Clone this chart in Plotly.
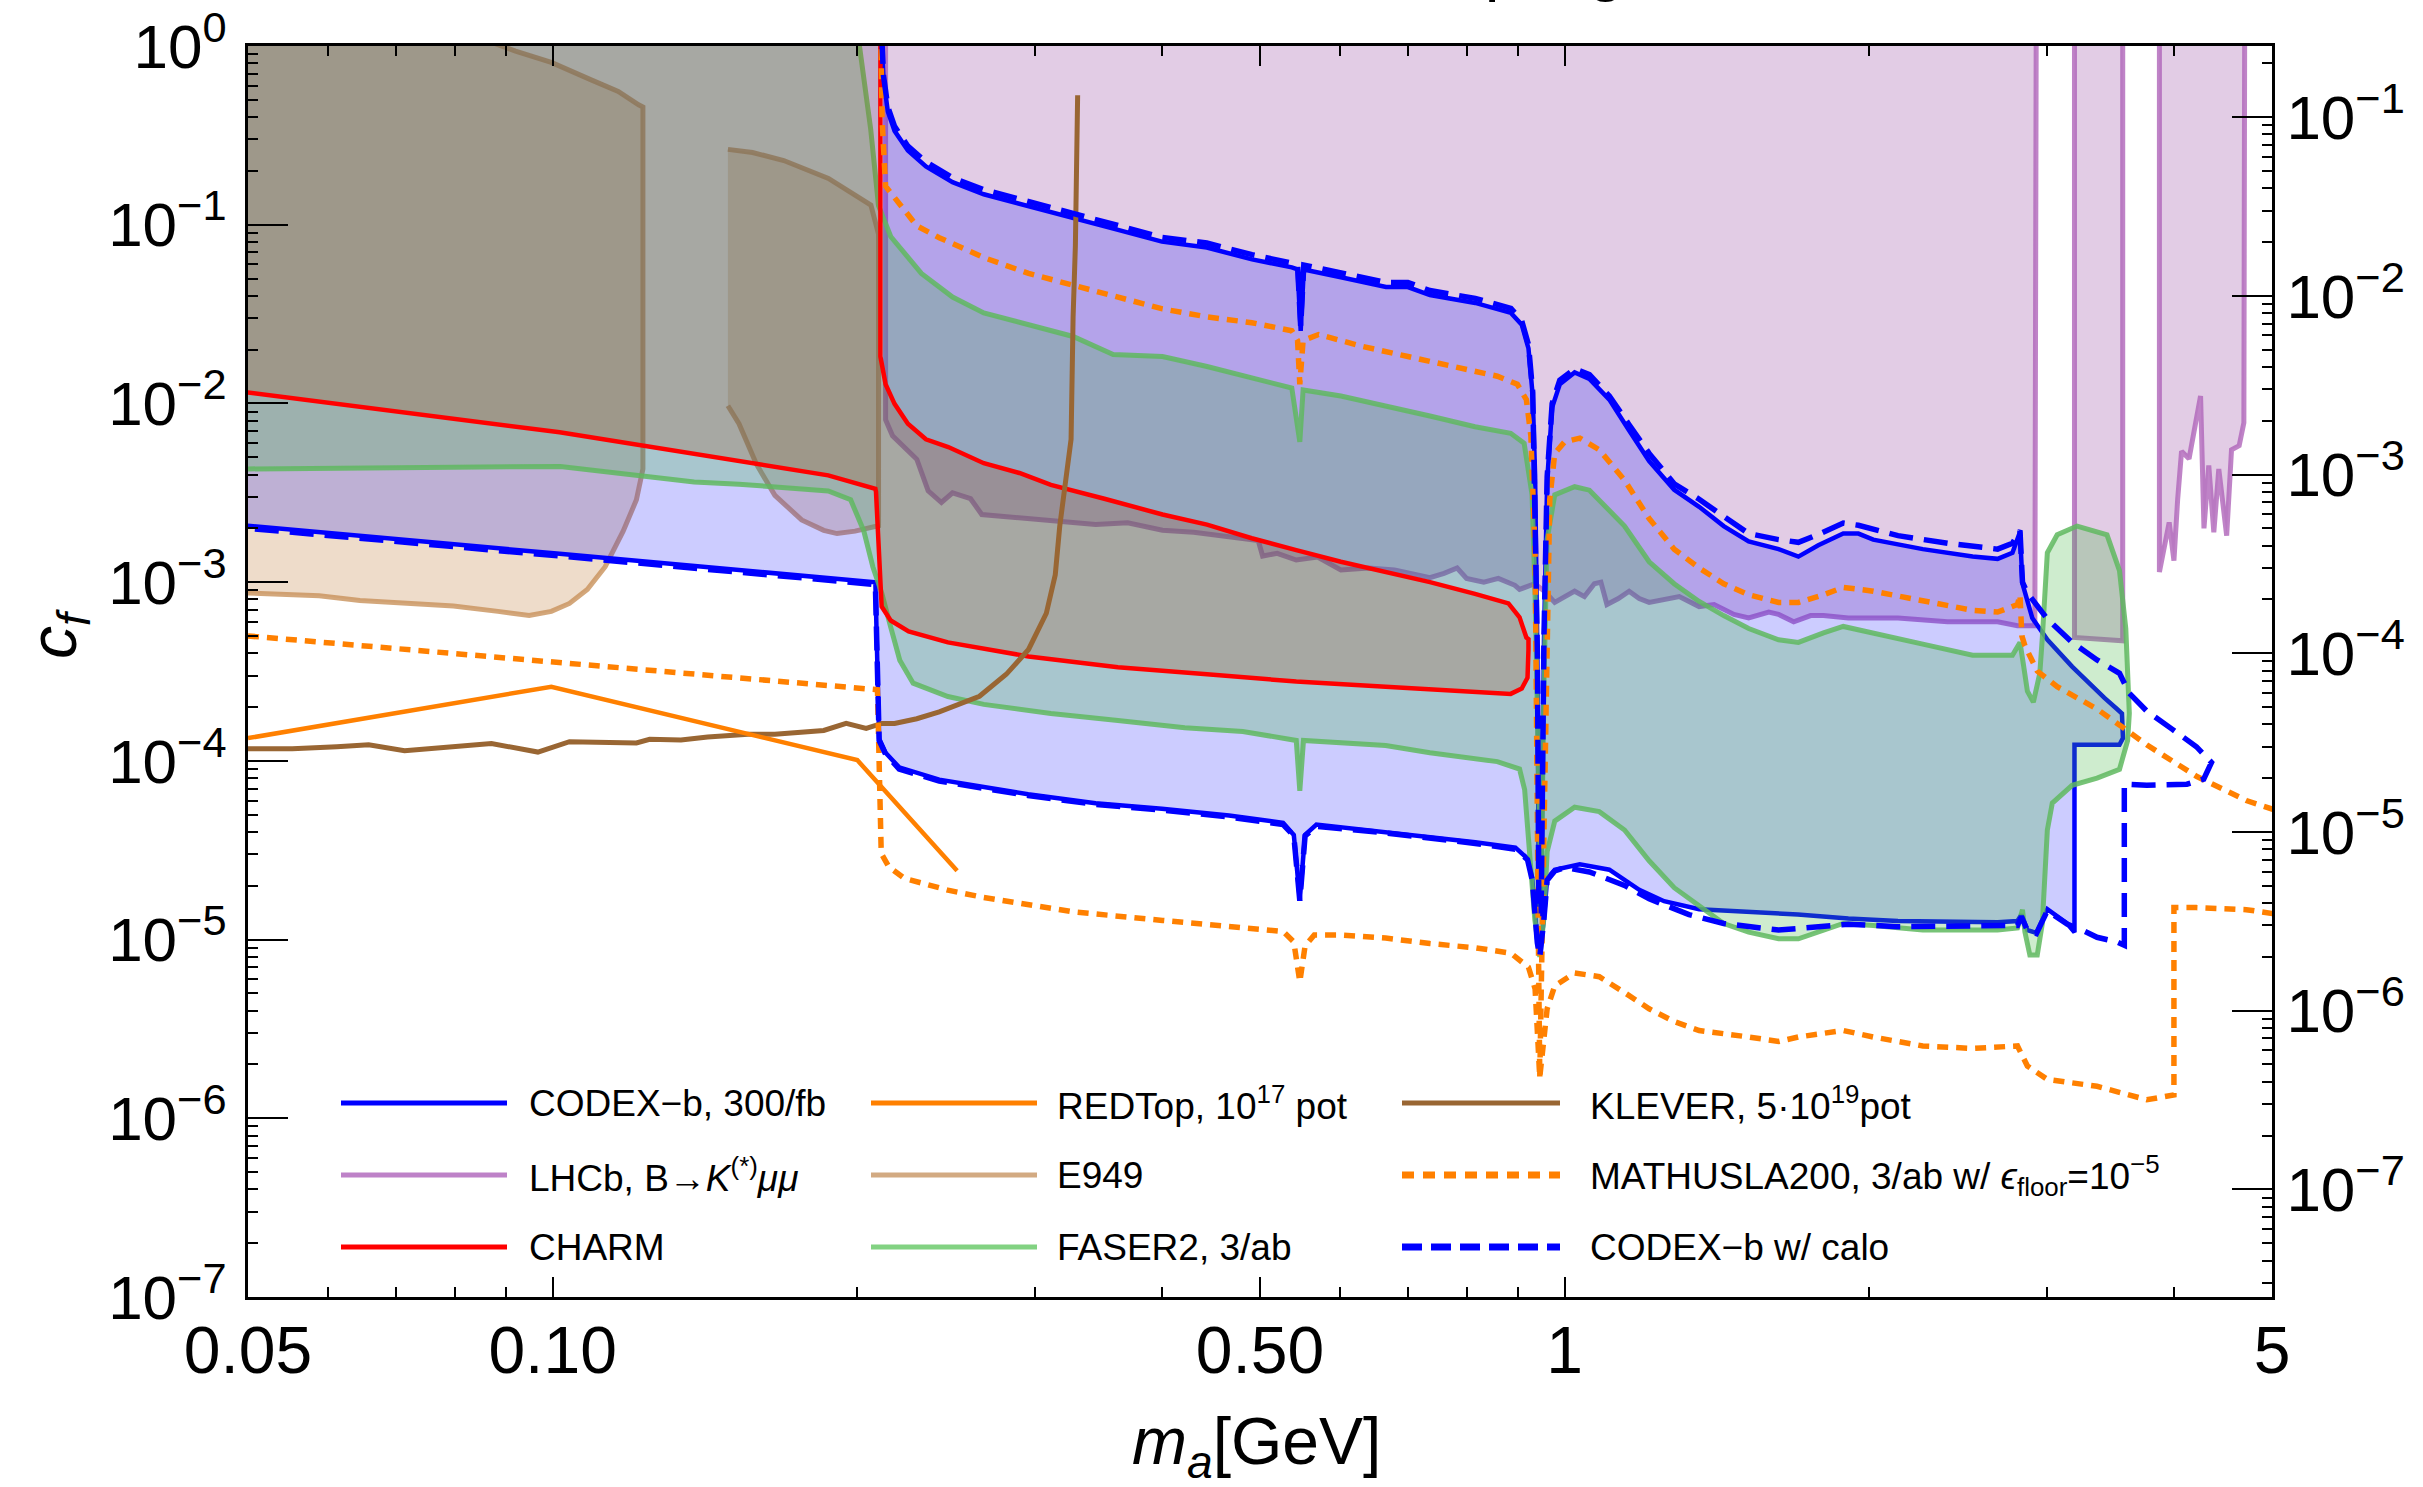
import math
import plotly.graph_objects as go

FONT = "Liberation Sans, Arial, Helvetica, sans-serif"

# ------------------------------------------------------------------ data
# all points are (m_a [GeV], c_f)

# CODEX-b, 300/fb (solid, filled region)
codex_lower = [(0.05, 2.07e-3), (0.1016, 1.44e-3), (0.2084, 9.97e-4), (0.2102, 1.33e-4), (0.2133, 1.11e-4),
               (0.220, 9.2e-5), (0.241, 7.85e-5), (0.295, 6.5e-5), (0.344, 5.8e-5), (0.400, 5.4e-5),
               (0.466, 4.95e-5), (0.527, 4.5e-5), (0.540, 3.85e-5), (0.5474, 1.68e-5), (0.554, 3.85e-5),
               (0.5685, 4.4e-5), (0.666, 4.0e-5), (0.816, 3.5e-5), (0.894, 3.27e-5), (0.919, 2.84e-5),
               (0.929, 2.19e-5), (0.9397, 9.8e-6), (0.945, 8.2e-6), (0.9537, 1.3e-5), (0.961, 2.19e-5),
               (0.9777, 2.46e-5), (1.035, 2.64e-5), (1.107, 2.46e-5), (1.185, 1.9e-5), (1.254, 1.64e-5),
               (1.358, 1.48e-5), (1.52, 1.43e-5), (1.70, 1.38e-5), (1.907, 1.31e-5), (2.135, 1.27e-5),
               (2.678, 1.25e-5), (2.802, 1.27e-5), (2.827, 1.38e-5), (2.866, 1.13e-5), (2.925, 1.09e-5),
               (2.999, 1.48e-5), (3.137, 1.23e-5), (3.19, 1.1e-5)]
codex_right = [(3.19, 1.23e-4), (3.534, 1.23e-4), (3.562, 1.34e-4), (3.554, 1.84e-4)]
codex_upper = [(0.2105, 2.0), (0.2123, 0.649), (0.2144, 0.43), (0.2177, 0.335), (0.2244, 0.26), (0.2338, 0.212),
               (0.2484, 0.173), (0.2667, 0.148), (0.2953, 0.127), (0.3268, 0.109), (0.362, 0.0936),
               (0.400, 0.0804), (0.443, 0.0745), (0.491, 0.064), (0.5375, 0.0577), (0.5446, 0.0562),
               (0.5485, 0.0255), (0.5524, 0.0562), (0.601, 0.0508), (0.666, 0.0448), (0.700, 0.0448),
               (0.736, 0.0404), (0.816, 0.0365), (0.885, 0.0321), (0.907, 0.0276), (0.921, 0.0203),
               (0.930, 0.011), (0.935, 3.97e-3), (0.940, 3.7e-4), (0.943, 1.5e-5), (0.948, 1.5e-5),
               (0.954, 4.7e-4), (0.961, 3.7e-3), (0.972, 9.5e-3), (0.989, 1.28e-2), (1.023, 1.49e-2),
               (1.058, 1.37e-2), (1.107, 1.05e-2), (1.158, 7.06e-3), (1.212, 4.76e-3), (1.283, 3.29e-3),
               (1.358, 2.64e-3), (1.436, 2.06e-3), (1.52, 1.69e-3), (1.627, 1.53e-3), (1.702, 1.39e-3),
               (1.781, 1.61e-3), (1.885, 1.87e-3), (1.951, 1.87e-3), (2.018, 1.73e-3), (2.259, 1.53e-3),
               (2.53, 1.39e-3), (2.678, 1.35e-3), (2.77, 1.46e-3), (2.818, 1.91e-3), (2.834, 9.8e-4),
               (2.898, 6.3e-4), (3.0, 4.76e-4), (3.173, 3.37e-4), (3.415, 2.25e-4), (3.514, 1.95e-4)]

# CODEX-b w/ calo (dashed contour)
calo_lower = [(0.05, 2.0e-3), (0.1016, 1.4e-3), (0.2084, 9.7e-4), (0.2102, 1.3e-4), (0.2133, 1.09e-4),
              (0.220, 9.0e-5), (0.241, 7.7e-5), (0.295, 6.4e-5), (0.344, 5.7e-5), (0.400, 5.3e-5),
              (0.466, 4.85e-5), (0.527, 4.4e-5), (0.540, 3.8e-5), (0.5474, 1.65e-5), (0.554, 3.8e-5),
              (0.5685, 4.3e-5), (0.666, 3.95e-5), (0.816, 3.45e-5), (0.894, 3.2e-5), (0.919, 2.8e-5),
              (0.929, 2.15e-5), (0.9397, 9.6e-6), (0.945, 8.0e-6), (0.9537, 1.28e-5), (0.961, 2.15e-5),
              (0.9777, 2.42e-5), (1.0, 2.53e-5), (1.058, 2.39e-5), (1.146, 2.01e-5), (1.212, 1.69e-5),
              (1.327, 1.38e-5), (1.436, 1.23e-5), (1.627, 1.13e-5), (1.907, 1.22e-5), (2.135, 1.18e-5),
              (2.802, 1.2e-5), (2.827, 1.35e-5), (2.866, 1.12e-5), (2.925, 1.08e-5), (2.999, 1.45e-5),
              (3.137, 1.22e-5), (3.245, 1.13e-5), (3.358, 1.03e-5), (3.514, 9.7e-6), (3.573, 9.3e-6)]
calo_right = [(3.573, 7.4e-5), (3.76, 7.3e-5), (4.12, 7.4e-5), (4.28, 7.9e-5), (4.357, 9.8e-5)]
calo_upper = [(0.2105, 2.0), (0.2123, 0.68), (0.2144, 0.455), (0.2177, 0.355), (0.2244, 0.275), (0.2338, 0.225),
              (0.2484, 0.183), (0.2667, 0.157), (0.2953, 0.135), (0.3268, 0.116), (0.362, 0.099),
              (0.400, 0.085), (0.443, 0.079), (0.491, 0.068), (0.5375, 0.061), (0.5446, 0.0595),
              (0.5485, 0.027), (0.5524, 0.0595), (0.601, 0.054), (0.666, 0.0475), (0.700, 0.0475),
              (0.736, 0.0428), (0.816, 0.0387), (0.885, 0.034), (0.907, 0.029), (0.921, 0.0213),
              (0.930, 0.0115), (0.935, 4.1e-3), (0.940, 3.8e-4), (0.943, 1.4e-5), (0.948, 1.4e-5),
              (0.954, 4.9e-4), (0.961, 3.9e-3), (0.972, 1.0e-2), (0.989, 1.35e-2), (1.023, 1.56e-2),
              (1.058, 1.45e-2), (1.107, 1.1e-2), (1.158, 7.6e-3), (1.212, 5.25e-3), (1.283, 3.55e-3),
              (1.358, 2.91e-3), (1.436, 2.33e-3), (1.52, 1.87e-3), (1.627, 1.73e-3), (1.702, 1.67e-3),
              (1.781, 1.85e-3), (1.885, 2.14e-3), (1.951, 2.08e-3), (2.135, 1.82e-3), (2.39, 1.65e-3),
              (2.678, 1.53e-3), (2.77, 1.65e-3), (2.818, 1.95e-3), (2.834, 1.0e-3), (2.866, 8.7e-4),
              (3.0, 6.2e-4), (3.173, 4.6e-4), (3.358, 3.67e-4), (3.534, 3.09e-4), (3.614, 2.39e-4),
              (3.76, 1.9e-4), (3.98, 1.51e-4), (4.21, 1.2e-4)]

# LHCb, B -> K(*) mu mu (excluded above the boundary, three pieces)
lhcb_main = [(0.2133, 3.0), (0.2133, 8.1e-3), (0.2167, 6.6e-3), (0.2222, 5.7e-3), (0.229, 4.87e-3),
             (0.235, 3.24e-3), (0.2422, 2.79e-3), (0.2484, 3.16e-3), (0.2588, 2.93e-3), (0.2655, 2.39e-3),
             (0.2953, 2.27e-3), (0.32, 2.2e-3), (0.344, 2.1e-3), (0.37, 2.15e-3), (0.4005, 1.95e-3),
             (0.43, 1.9e-3), (0.4663, 1.8e-3), (0.498, 1.71e-3), (0.503, 1.4e-3), (0.52, 1.45e-3),
             (0.543, 1.33e-3), (0.57, 1.38e-3), (0.601, 1.17e-3), (0.64, 1.2e-3), (0.679, 1.17e-3),
             (0.736, 1.06e-3), (0.76, 1.12e-3), (0.783, 1.2e-3), (0.80, 1.05e-3), (0.832, 1.0e-3),
             (0.86, 1.05e-3), (0.893, 9.6e-4), (0.9025, 9.1e-4), (0.934, 9.8e-4), (0.955, 8.9e-4),
             (0.9777, 7.7e-4), (1.023, 8.9e-4), (1.046, 8.3e-4), (1.070, 9.8e-4), (1.086, 1.0e-3),
             (1.101, 7.5e-4), (1.13, 8.1e-4), (1.158, 8.9e-4), (1.185, 8.1e-4), (1.212, 7.7e-4),
             (1.25, 8.0e-4), (1.298, 8.3e-4), (1.358, 7.3e-4), (1.405, 7.5e-4), (1.47, 6.6e-4),
             (1.52, 6.3e-4), (1.591, 6.8e-4), (1.627, 6.6e-4), (1.684, 6.0e-4), (1.75, 6.5e-4),
             (1.802, 6.5e-4), (1.907, 6.3e-4), (2.135, 6.3e-4), (2.39, 6.0e-4), (2.678, 6.0e-4),
             (2.802, 5.7e-4), (2.915, 5.7e-4), (2.915, 6.7e-3), (2.925, 3.0)]
lhcb_mid = [(3.19, 3.0), (3.19, 4.9e-4), (3.56, 4.7e-4), (3.56, 3.0)]
lhcb_high = [(3.87, 3.0), (3.87, 1.14e-3), (3.957, 2.16e-3), (4.0, 1.32e-3), (4.034, 2.9e-3), (4.07, 5.4e-3),
             (4.14, 4.9e-3), (4.25, 1.1e-2), (4.283, 2.0e-3), (4.33, 4.5e-3), (4.38, 1.9e-3), (4.43, 4.3e-3),
             (4.51, 1.82e-3), (4.56, 5.5e-3), (4.64, 5.8e-3), (4.69, 7.8e-3), (4.70, 3.0)]

# CHARM (excluded region)
charm_lower = [(0.05, 1.15e-2), (0.1016, 6.9e-3), (0.1872, 3.96e-3), (0.2084, 3.33e-3), (0.2087, 3.2e-3),
               (0.2114, 7.3e-4), (0.2158, 6.1e-4), (0.2248, 5.3e-4), (0.2458, 4.6e-4), (0.2953, 3.84e-4),
               (0.3619, 3.34e-4), (0.4432, 3.05e-4), (0.543, 2.78e-4), (0.6655, 2.6e-4), (0.8155, 2.43e-4),
               (0.8845, 2.37e-4), (0.907, 2.54e-4), (0.919, 2.92e-4), (0.921, 4.2e-4)]
charm_upper = [(0.2108, 2.0), (0.2108, 1.83e-2), (0.2133, 1.28e-2), (0.2177, 9.95e-3), (0.2244, 7.7e-3),
               (0.2338, 6.3e-3), (0.246, 5.7e-3), (0.2667, 4.63e-3), (0.2892, 4.08e-3), (0.3107, 3.5e-3),
               (0.3509, 2.93e-3), (0.4005, 2.39e-3), (0.4432, 2.1e-3), (0.4907, 1.76e-3), (0.543, 1.51e-3),
               (0.601, 1.3e-3), (0.6655, 1.14e-3), (0.736, 1.0e-3), (0.8155, 8.6e-4), (0.88, 7.6e-4),
               (0.9025, 6.35e-4), (0.9166, 4.9e-4), (0.921, 4.8e-4)]

# FASER2, 3/ab (projected region)
faser_lower = [(0.05, 4.3e-3), (0.1018, 4.44e-3), (0.1104, 4.2e-3), (0.138, 3.63e-3), (0.1528, 3.53e-3),
               (0.1872, 3.24e-3), (0.197, 2.89e-3), (0.203, 1.93e-3), (0.2072, 1.22e-3), (0.2115, 8.65e-4),
               (0.2158, 5.6e-4), (0.2203, 3.66e-4), (0.2271, 2.72e-4), (0.2458, 2.29e-4), (0.2667, 2.07e-4),
               (0.3107, 1.84e-4), (0.3619, 1.68e-4), (0.4213, 1.53e-4), (0.4808, 1.46e-4), (0.5375, 1.33e-4),
               (0.543, 1.3e-4), (0.5474, 6.8e-5), (0.552, 1.3e-4), (0.6655, 1.22e-4), (0.736, 1.11e-4),
               (0.858, 9.9e-5), (0.9025, 9.0e-5), (0.913, 6.9e-5), (0.924, 3.1e-5), (0.9343, 1.3e-5),
               (0.945, 8.0e-6), (0.9537, 1.3e-5), (0.961, 3.1e-5), (0.9777, 4.6e-5), (1.023, 5.5e-5),
               (1.082, 5.2e-5), (1.146, 4.1e-5), (1.212, 2.76e-5), (1.283, 1.95e-5), (1.358, 1.55e-5),
               (1.436, 1.23e-5), (1.52, 1.1e-5), (1.627, 1.01e-5), (1.702, 1.01e-5), (1.781, 1.1e-5),
               (1.885, 1.23e-5), (2.018, 1.2e-5), (2.259, 1.13e-5), (2.678, 1.13e-5), (2.802, 1.16e-5),
               (2.834, 1.47e-5), (2.85, 1.1e-5), (2.882, 8.2e-6), (2.931, 8.2e-6), (2.965, 1.23e-5),
               (2.999, 4.1e-5), (3.033, 5.8e-5), (3.173, 7.3e-5), (3.358, 8.0e-5), (3.534, 8.97e-5),
               (3.60, 1.3e-4), (3.614, 1.84e-4)]
faser_upper = [(0.199, 2.0), (0.201, 1.0), (0.2062, 0.342), (0.2099, 0.128), (0.2158, 0.0859), (0.2314, 0.0534),
               (0.2484, 0.0394), (0.2667, 0.0321), (0.2953, 0.0276), (0.3268, 0.0237), (0.358, 0.0188),
               (0.4005, 0.0183), (0.4432, 0.0161), (0.4907, 0.0139), (0.5375, 0.0122), (0.5474, 6.1e-3),
               (0.5515, 0.0119), (0.601, 0.011), (0.6655, 9.7e-3), (0.736, 8.5e-3), (0.8155, 7.4e-3),
               (0.8845, 6.8e-3), (0.912, 5.98e-3), (0.9286, 3.08e-3), (0.935, 8.6e-4), (0.940, 2.0e-4),
               (0.948, 1.5e-5), (0.953, 2.0e-4), (0.961, 1.74e-3), (0.9777, 3.08e-3), (1.023, 3.42e-3),
               (1.058, 3.27e-3), (1.146, 2.06e-3), (1.212, 1.3e-3), (1.283, 9.8e-4), (1.358, 7.8e-4),
               (1.436, 6.5e-4), (1.52, 5.5e-4), (1.627, 4.76e-4), (1.702, 4.6e-4), (1.802, 5.2e-4),
               (1.885, 5.65e-4), (2.018, 5.2e-4), (2.259, 4.5e-4), (2.53, 3.9e-4), (2.77, 3.9e-4),
               (2.818, 4.6e-4), (2.84, 3.47e-4), (2.866, 2.45e-4), (2.905, 2.13e-4), (2.948, 3.09e-4),
               (2.965, 4.9e-4), (2.999, 1.46e-3), (3.067, 1.84e-3), (3.209, 2.06e-3), (3.435, 1.84e-3),
               (3.534, 1.16e-3), (3.585, 5.5e-4)]

# E949 (two excluded islands)
e949_low = [(0.04, 1.5), (0.04, 8.8e-4), (0.05, 8.7e-4), (0.0588, 8.4e-4), (0.0645, 7.9e-4), (0.0713, 7.6e-4),
            (0.0798, 7.35e-4), (0.0883, 6.86e-4), (0.0948, 6.5e-4), (0.0997, 6.86e-4), (0.1039, 7.6e-4),
            (0.1082, 9.1e-4), (0.1127, 1.22e-3), (0.1174, 1.93e-3), (0.121, 2.89e-3), (0.1228, 4.3e-3),
            (0.1228, 0.456), (0.1216, 0.469), (0.1161, 0.557), (0.1093, 0.644), (0.0997, 0.81),
            (0.0919, 0.936), (0.087, 1.05), (0.083, 1.5)]
e949_high = [(0.149, 9.7e-3), (0.1528, 7.7e-3), (0.159, 4.57e-3), (0.1658, 3.06e-3), (0.1762, 2.23e-3),
             (0.1853, 1.95e-3), (0.191, 1.87e-3), (0.199, 1.93e-3), (0.2099, 2.07e-3), (0.2099, 0.0885),
             (0.2063, 0.1286), (0.1873, 0.1816), (0.1692, 0.2286), (0.1576, 0.2535), (0.149, 0.264)]

# KLEVER, 5.10^19 pot
klever = [(0.05, 1.17e-4), (0.0553, 1.17e-4), (0.0612, 1.2e-4), (0.0658, 1.23e-4), (0.0714, 1.14e-4),
          (0.079, 1.2e-4), (0.087, 1.25e-4), (0.0967, 1.12e-4), (0.1039, 1.28e-4), (0.121, 1.26e-4),
          (0.1247, 1.32e-4), (0.1339, 1.31e-4), (0.1423, 1.36e-4), (0.156, 1.41e-4), (0.1658, 1.41e-4),
          (0.1853, 1.48e-4), (0.195, 1.62e-4), (0.2041, 1.52e-4), (0.2115, 1.62e-4), (0.2177, 1.62e-4),
          (0.229, 1.72e-4), (0.241, 1.88e-4), (0.2641, 2.3e-4), (0.2807, 3.05e-4), (0.2953, 4.2e-4),
          (0.3075, 6.7e-4), (0.3138, 1.1e-3), (0.317, 2.05e-3), (0.322, 3.97e-3), (0.3253, 6.3e-3),
          (0.3268, 0.0305), (0.3285, 0.0764), (0.3302, 0.53)]

# REDTop, 10^17 pot
redtop = [(0.05, 1.34e-4), (0.0997, 2.6e-4), (0.2, 1.01e-4), (0.251, 2.43e-5)]

# MATHUSLA200, 3/ab
mathusla_upper = [(0.2108, 2.0), (0.2116, 0.39), (0.2133, 0.164), (0.2177, 0.1406), (0.229, 0.0986),
                  (0.241, 0.0846), (0.2667, 0.0655), (0.2953, 0.0534), (0.3268, 0.0459), (0.3619, 0.0394),
                  (0.4005, 0.0338), (0.4432, 0.0305), (0.4907, 0.0283), (0.5375, 0.0255), (0.5446, 0.0225),
                  (0.5474, 0.0128), (0.5515, 0.0225), (0.5713, 0.0243), (0.6324, 0.0208), (0.7001, 0.0183),
                  (0.775, 0.0161), (0.858, 0.0142), (0.898, 0.0128), (0.9166, 0.0105), (0.926, 6.6e-3),
                  (0.935, 1.44e-3), (0.942, 1.0e-5), (0.945, 1.7e-6), (0.950, 1.0e-5), (0.961, 3.0e-4),
                  (0.9667, 2.9e-3), (0.9777, 5.25e-3), (1.0, 6.1e-3), (1.035, 6.4e-3), (1.082, 5.5e-3),
                  (1.146, 3.72e-3), (1.212, 2.27e-3), (1.283, 1.53e-3), (1.358, 1.2e-3), (1.436, 9.8e-4),
                  (1.52, 8.5e-4), (1.627, 7.7e-4), (1.702, 7.7e-4), (1.802, 8.5e-4), (1.885, 9.35e-4),
                  (2.018, 8.9e-4), (2.259, 7.9e-4), (2.53, 6.95e-4), (2.678, 6.8e-4), (2.802, 7.5e-4),
                  (2.818, 8.5e-4), (2.83, 5.0e-4), (2.85, 4.4e-4), (2.931, 3.18e-4), (3.067, 2.6e-4),
                  (3.358, 1.95e-4), (3.554, 1.55e-4), (3.76, 1.23e-4), (4.21, 8.2e-5), (4.716, 6.0e-5),
                  (5.09, 5.2e-5)]
mathusla_lower = [(0.05, 5.0e-4), (0.2094, 2.5e-4), (0.2112, 3.04e-5), (0.2148, 2.56e-5), (0.2226, 2.2e-5),
                  (0.2458, 1.89e-5), (0.2667, 1.72e-5), (0.3268, 1.43e-5), (0.4005, 1.28e-5), (0.4907, 1.16e-5),
                  (0.527, 1.11e-5), (0.540, 9.7e-6), (0.5474, 5.8e-6), (0.554, 9.2e-6), (0.5657, 1.06e-5),
                  (0.601, 1.06e-5), (0.6655, 1.02e-5), (0.736, 9.5e-6), (0.8155, 9.0e-6), (0.8845, 8.4e-6),
                  (0.921, 7.0e-6), (0.935, 5.3e-6), (0.945, 1.7e-6), (0.961, 4.1e-6), (0.9777, 5.5e-6),
                  (1.023, 6.5e-6), (1.082, 6.2e-6), (1.146, 5.05e-6), (1.212, 4.1e-6), (1.283, 3.48e-6),
                  (1.358, 3.1e-6), (1.52, 2.85e-6), (1.627, 2.69e-6), (1.702, 2.85e-6), (1.885, 3.1e-6),
                  (2.018, 2.85e-6), (2.259, 2.54e-6), (2.53, 2.46e-6), (2.802, 2.54e-6), (2.866, 1.96e-6),
                  (2.999, 1.65e-6), (3.358, 1.51e-6), (3.76, 1.27e-6), (4.0, 1.35e-6), (4.0, 1.51e-5),
                  (4.21, 1.51e-5), (4.716, 1.47e-5), (5.09, 1.38e-5)]

# axis ticks
x_tick_vals = [0.05, 0.1, 0.5, 1, 5]
x_tick_text = ["0.05", "0.10", "0.50", "1", "5"]
x_minor_vals = [0.06, 0.07, 0.08, 0.09, 0.2, 0.3, 0.4, 0.6, 0.7, 0.8, 0.9, 2, 3, 4]
y_exponents = [0, -1, -2, -3, -4, -5, -6, -7]
y2_exponents = [-1, -2, -3, -4, -5, -6, -7]

legend_labels = [
    ["CODEX\u2212b, 300/fb", "REDTop, 10<sup>17</sup> pot", "KLEVER, 5\u00b710<sup>19</sup>pot"],
    ["LHCb, B\u2192<i>K</i><sup>(*)</sup><i>\u03bc\u03bc</i>", "E949",
     "MATHUSLA200, 3/ab w/ <i>\u03f5</i><sub>floor</sub>=10<sup>\u22125</sup>"],
    ["CHARM", "FASER2, 3/ab", "CODEX\u2212b w/ calo"],
]

# ------------------------------------------------------------------ styling
OFF_L = 0.04      # just outside the left edge (segments there are clipped)
OFF_T = 3.0       # just above the top edge

C_BLUE = "#0000ff"
C_RED = "#ff0000"
C_ORANGE = "#ff8000"
C_BROWN = "rgb(153,102,51)"

W, H = 2423, 1487
L, R, T, B = 248, 2272, 46, 1297   # plot area in pixels


def px_x(X):
    return (X - L) / (R - L)


def px_y(Y):
    return 1 - (Y - T) / (B - T)


def split(points):
    return [p[0] for p in points], [p[1] for p in points]


fig = go.Figure()


def region(points, fillcolor, linecolor, width):
    xs, ys = split(points)
    fig.add_trace(go.Scatter(x=xs, y=ys, mode="lines", fill="toself", fillcolor=fillcolor,
                             line=dict(color=linecolor, width=width), hoverinfo="skip",
                             showlegend=False))


def curve(points, color, width, dash="solid"):
    xs, ys = split(points)
    fig.add_trace(go.Scatter(x=xs, y=ys, mode="lines", line=dict(color=color, width=width, dash=dash),
                             hoverinfo="skip", showlegend=False))


# filled constraints / projections (drawing order matters for the blended colours)
LHCB_FILL, LHCB_LINE = "rgba(140,50,150,0.25)", "rgba(175,100,185,0.8)"
for piece in (lhcb_main, lhcb_mid, lhcb_high):
    region(piece, LHCB_FILL, LHCB_LINE, 5)

E949_FILL, E949_LINE = "rgba(200,140,80,0.30)", "rgba(200,145,90,0.8)"
region(e949_low, E949_FILL, E949_LINE, 5)
region(e949_high, E949_FILL, E949_LINE, 5)

codex_poly = [(OFF_L, codex_lower[0][1])] + codex_lower + codex_right + codex_upper[::-1] + [(OFF_L, OFF_T)]
region(codex_poly, "rgba(0,0,255,0.20)", C_BLUE, 4.5)

faser_poly = [(OFF_L, faser_lower[0][1])] + faser_lower + faser_upper[::-1] + [(OFF_L, OFF_T)]
region(faser_poly, "rgba(60,180,60,0.25)", "rgba(95,185,95,0.85)", 5)

charm_poly = [(OFF_L, charm_lower[0][1])] + charm_lower + charm_upper[::-1] + [(OFF_L, OFF_T)]
region(charm_poly, "rgba(165,70,20,0.23)", C_RED, 4.5)

# projection curves
curve(klever, C_BROWN, 5)
curve(redtop, C_ORANGE, 4.5)
mx = [p[0] for p in mathusla_upper] + [None] + [p[0] for p in mathusla_lower]
my = [p[1] for p in mathusla_upper] + [None] + [p[1] for p in mathusla_lower]
fig.add_trace(go.Scatter(x=mx, y=my, mode="lines", line=dict(color=C_ORANGE, width=5.5, dash="11px,8px"),
                         hoverinfo="skip", showlegend=False))
calo_path = [(OFF_L, calo_lower[0][1])] + calo_lower + calo_right + calo_upper[::-1] + [(OFF_L, OFF_T)]
curve(calo_path, C_BLUE, 5.5, dash="24px,11px")

# anchor for the secondary (right) axis
fig.add_trace(go.Scatter(x=[None], y=[None], yaxis="y2", mode="lines", hoverinfo="skip", showlegend=False))

# ------------------------------------------------------------------ axes
tickfont = dict(family=FONT, size=62, color="black")


def sup(e):
    return "10<sup>%s</sup>" % (str(e).replace("-", "\u2212"))


fig.update_xaxes(type="log", range=[math.log10(0.05), math.log10(5)], tickmode="array",
                 tickvals=x_tick_vals, ticktext=x_tick_text, ticks="inside", ticklen=20, tickwidth=2,
                 tickcolor="black", showline=True, linewidth=3, linecolor="black", mirror="ticks",
                 showgrid=False, zeroline=False, tickfont=dict(family=FONT, size=66, color="black"),
                 ticklabelstandoff=-6, automargin=False,
                 minor=dict(tickvals=x_minor_vals, ticks="inside", ticklen=10, tickwidth=1.5,
                            tickcolor="black", showgrid=False))

y_minor = [k * 10.0 ** e for e in range(-7, 0) for k in range(2, 10)]
fig.update_yaxes(type="log", range=[-7, 0], tickmode="array", tickvals=[10.0 ** e for e in y_exponents],
                 ticktext=[sup(e) for e in y_exponents], ticks="inside", ticklen=40, tickwidth=2,
                 tickcolor="black", showline=True, linewidth=3, linecolor="black", mirror=False,
                 showgrid=False, zeroline=False, tickfont=tickfont, ticklabelstandoff=6, automargin=False,
                 minor=dict(tickvals=y_minor, ticks="inside", ticklen=10, tickwidth=1.5,
                            tickcolor="black", showgrid=False))

y2_minor = [k * 10.0 ** e for e in range(-8, 0) for k in range(2, 10) if 2.5e-8 <= k * 10.0 ** e <= 0.25]
fig.update_layout(yaxis2=dict(type="log", overlaying="y", side="right", anchor="x",
                              range=[math.log10(2.5e-8), math.log10(0.25)], tickmode="array",
                              tickvals=[10.0 ** e for e in y2_exponents],
                              ticktext=[sup(e) for e in y2_exponents], ticks="inside", ticklen=40,
                              tickwidth=2, tickcolor="black", showline=True, linewidth=3,
                              linecolor="black", showgrid=False, zeroline=False, tickfont=tickfont,
                              ticklabelstandoff=-1, automargin=False,
                              minor=dict(tickvals=y2_minor, ticks="inside", ticklen=10, tickwidth=1.5,
                                         tickcolor="black", showgrid=False)))

# ------------------------------------------------------------------ texts
annotations = [
    dict(text="<i>m</i><sub><i>a</i></sub>[GeV]", x=px_x(1256), y=px_y(1446), xref="paper", yref="paper",
         showarrow=False, xanchor="center", yanchor="middle", font=dict(family=FONT, size=66, color="black")),
    dict(text="<i>c</i><sub><i>f</i></sub>", x=px_x(58), y=px_y(634), xref="paper", yref="paper",
         showarrow=False, textangle=-90, xanchor="center", yanchor="middle",
         font=dict(family=FONT, size=66, color="black")),
    # plot label, almost entirely above the visible page (only descenders show, as in the original)
    dict(text="Fermion coupling, \u039b = 1 TeV", x=px_x(1116), y=px_y(4), xref="paper", yref="paper",
         showarrow=False, xanchor="left", yanchor="bottom", font=dict(family=FONT, size=66, color="black")),
]

# legend drawn by hand (3 x 3 grid, inside the frame)
key_x = [(341, 507), (871, 1037), (1402, 1560)]
text_x = [527, 1055, 1588]
row_y = [1103, 1175, 1247]
key_style = [
    [(C_BLUE, "solid", 5), (C_ORANGE, "solid", 5), (C_BROWN, "solid", 5)],
    [("rgb(190,130,200)", "solid", 5), ("rgb(210,170,130)", "solid", 5), (C_ORANGE, "12px,9px", 7)],
    [(C_RED, "solid", 5), ("rgb(130,210,130)", "solid", 5), (C_BLUE, "20px,9px", 7)],
]
shapes = []
for r in range(3):
    for c in range(3):
        col, dash, wid = key_style[r][c]
        shapes.append(dict(type="line", xref="paper", yref="paper", x0=px_x(key_x[c][0]), x1=px_x(key_x[c][1]),
                           y0=px_y(row_y[r]), y1=px_y(row_y[r]), line=dict(color=col, width=wid, dash=dash)))
        annotations.append(dict(text=legend_labels[r][c], x=px_x(text_x[c]), y=px_y(row_y[r]), xref="paper",
                                yref="paper", showarrow=False, xanchor="left", yanchor="middle",
                                font=dict(family=FONT, size=37, color="black")))

fig.update_layout(width=W, height=H, margin=dict(l=L, r=W - R, t=T, b=H - B, pad=0, autoexpand=False),
                  plot_bgcolor="white", paper_bgcolor="white", showlegend=False, hovermode=False,
                  annotations=annotations, shapes=shapes, font=dict(family=FONT, color="black"))

# the page's default 8px body margin would offset the whole figure
fig.write_html("out.html", config={"displayModeBar": False},
               post_script="document.body.style.margin='0px';document.body.style.overflow='hidden';")
